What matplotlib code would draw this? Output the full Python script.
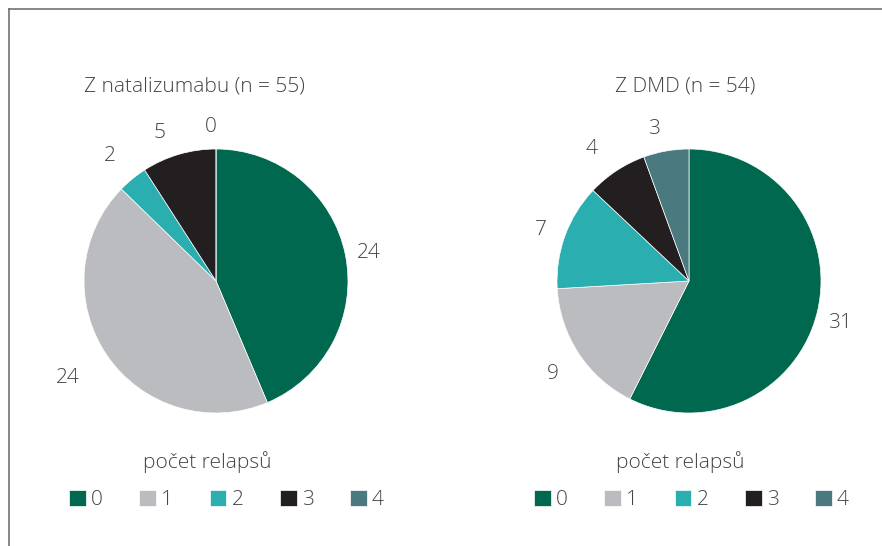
import numpy as np
import matplotlib
matplotlib.use("Agg")
import matplotlib.pyplot as plt
from matplotlib.lines import Line2D

# data
categories = ["0", "1", "2", "3", "4"]
natalizumab = [24, 24, 2, 5, 0]
dmd = [31, 9, 7, 4, 3]
titles = ["Z natalizumabu (n = 55)", "Z DMD (n = 54)"]
legend_title = "počet relapsů"

colors = ["#00684f", "#bbbcc0", "#2aaeb0", "#231f20", "#4a7a80"]
text_color = "#444444"

# label placement (distance as multiple of radius, angle nudge in degrees)
label_dist = [[1.18, 1.34, 1.24, 1.20, 1.17], [1.19, 1.25, 1.19, 1.24, 1.18]]
label_nudge = [[-1, -1, 1, 4.5, 2], [-2, 1, 1, 3, 3]]

plt.rcParams['font.family'] = ['Open Sans', 'DejaVu Sans']
plt.rcParams['font.weight'] = 'light'

W, H = 882, 546
fig = plt.figure(figsize=(W / 100, H / 100), dpi=100)

R = 132.0      # pie radius in px
lim = 1.8
centers = [(216, 281), (689, 281)]
title_dx = [-0.16, -0.03]
leg_dx = [0.08, 0.02]


def draw_pie(ax, values, title, dist, nudge, tdx, ldx):
    wedges, _ = ax.pie(values, colors=colors, startangle=90, counterclock=False,
                       radius=1, wedgeprops=dict(edgecolor="white", linewidth=0.5))
    for w, v, d, n in zip(wedges, values, dist, nudge):
        mid = np.deg2rad((w.theta1 + w.theta2) / 2 + n)
        ax.text(d * np.cos(mid), d * np.sin(mid), str(v), ha="center", va="center",
                fontsize=15, color=text_color)
    ax.text(tdx, 1.47, title, ha="center", va="center", fontsize=15, color=text_color)
    ax.text(-0.07, -1.37, legend_title, ha="center", va="center",
            fontsize=15, color=text_color)
    leg = ax.legend(wedges, categories, ncol=5, loc="center",
                    bbox_to_anchor=(0.5 + ldx / (2 * lim), 0.5 - 1.66 / (2 * lim)),
                    frameon=False, fontsize=15, handlelength=0.8, handleheight=0.8,
                    handletextpad=0.25, columnspacing=1.75, borderpad=0)
    for t in leg.get_texts():
        t.set_color(text_color)
    ax.set_xlim(-lim, lim)
    ax.set_ylim(-lim, lim)
    ax.set_aspect("equal")
    ax.axis("off")


for (cx, cy), vals, title, dist, nudge, tdx, ldx in zip(centers, [natalizumab, dmd], titles,
                                                        label_dist, label_nudge, title_dx, leg_dx):
    half = lim * R
    ax = fig.add_axes([(cx - half) / W, (H - cy - half) / H, 2 * half / W, 2 * half / H])
    draw_pie(ax, vals, title, dist, nudge, tdx, ldx)

# frame lines (top and left)
fig.add_artist(Line2D([8.5 / W, 8.5 / W], [0, 1 - 8.5 / H], color="#666666", lw=1.1))
fig.add_artist(Line2D([8.5 / W, 1], [1 - 8.5 / H, 1 - 8.5 / H], color="#666666", lw=1.1))

fig.savefig("out.png", dpi=100)
